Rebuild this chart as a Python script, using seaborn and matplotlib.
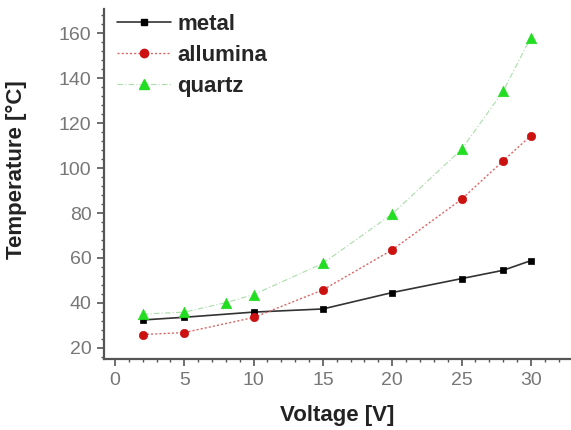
import matplotlib
matplotlib.use("Agg")
import matplotlib.pyplot as plt
from matplotlib.ticker import MultipleLocator
import seaborn as sns
import pandas as pd

# Measured temperatures vs applied voltage for three substrates
metal_v = [2, 5, 10, 15, 20, 25, 28, 30]
metal_t = [32.4, 33.6, 35.9, 37.3, 44.6, 50.8, 54.5, 58.8]

allumina_v = [2, 5, 10, 15, 20, 25, 28, 30]
allumina_t = [25.9, 26.8, 33.5, 45.8, 63.6, 86.1, 103.2, 114.4]

quartz_v = [2, 5, 8, 10, 15, 20, 25, 28, 30]
quartz_t = [35.0, 35.9, 40.1, 43.7, 57.6, 79.6, 108.3, 134.2, 158.1]

series_names = ["metal", "allumina", "quartz"]

df = pd.concat([
    pd.DataFrame({"V": metal_v, "T": metal_t, "s": series_names[0]}),
    pd.DataFrame({"V": allumina_v, "T": allumina_t, "s": series_names[1]}),
    pd.DataFrame({"V": quartz_v, "T": quartz_t, "s": series_names[2]}),
])

sns.set_theme(style="ticks")
plt.rcParams["font.family"] = ["Liberation Sans", "DejaVu Sans"]

fig = plt.figure(figsize=(5.71, 4.30), dpi=100)
ax = fig.add_axes([0.182, 0.165, 0.818, 0.815])

styles = {
    "metal": dict(color="black", ls="-", marker="s", ms=5, lw=1.2, mec="black"),
    "allumina": dict(color="#cc1111", ls=(0, (1.5, 1.5)), marker="o", ms=6, lw=1.0, mec="#cc1111"),
    "quartz": dict(color="#22dd22", ls=(0, (5, 2, 1, 2)), marker="^", ms=7.5, lw=0.8, mec="#22dd22"),
}
line_colors = {"metal": "#333333", "allumina": "#dd6666", "quartz": "#aaddaa"}

for name in series_names:
    st = styles[name]
    sub = df[df["s"] == name]
    sns.lineplot(data=sub, x="V", y="T", ax=ax, color=line_colors[name],
                 linestyle=st["ls"], lw=st["lw"], label=None, legend=False)
    sns.scatterplot(data=sub, x="V", y="T", ax=ax, color=st["color"],
                    marker=st["marker"], s=st["ms"] ** 2, edgecolor=st["mec"],
                    linewidth=0.5, legend=False, zorder=5)

# Legend entries combining line and marker
handles = []
for name in series_names:
    st = styles[name]
    h, = ax.plot([], [], color=line_colors[name], linestyle=st["ls"], lw=st["lw"],
                 marker=st["marker"], ms=st["ms"], mfc=st["color"], mec=st["mec"])
    handles.append(h)
ax.legend(handles, series_names, loc="upper left", frameon=False,
          prop=dict(weight="bold", size=16), handlelength=2.4, handletextpad=0.3,
          labelspacing=0.45, borderaxespad=0.0, bbox_to_anchor=(0.01, 1.01))

ax.set_xlim(-0.8, 32.9)
ax.set_ylim(15, 171)
ax.xaxis.set_major_locator(MultipleLocator(5))
ax.xaxis.set_minor_locator(MultipleLocator(1))
ax.yaxis.set_major_locator(MultipleLocator(20))
ax.yaxis.set_minor_locator(MultipleLocator(4))

for side in ["top", "right"]:
    ax.spines[side].set_visible(False)
for side in ["left", "bottom"]:
    ax.spines[side].set_color("#555555")
    ax.spines[side].set_linewidth(1.6)

ax.tick_params(axis="both", which="major", direction="out", length=5, width=1.2,
               color="#555555", labelsize=14, labelcolor="#777777", pad=4)
ax.tick_params(axis="both", which="minor", direction="out", length=2.5, width=1.0,
               color="#555555")

ax.set_xlabel("Voltage [V]", fontsize=16, fontweight="bold", color="#222222", labelpad=12)
ax.set_ylabel("Temperature [°C]", fontsize=16, fontweight="bold", color="#222222")
ax.yaxis.set_label_coords(-0.165, 0.54)

fig.savefig("out.png", dpi=100)
